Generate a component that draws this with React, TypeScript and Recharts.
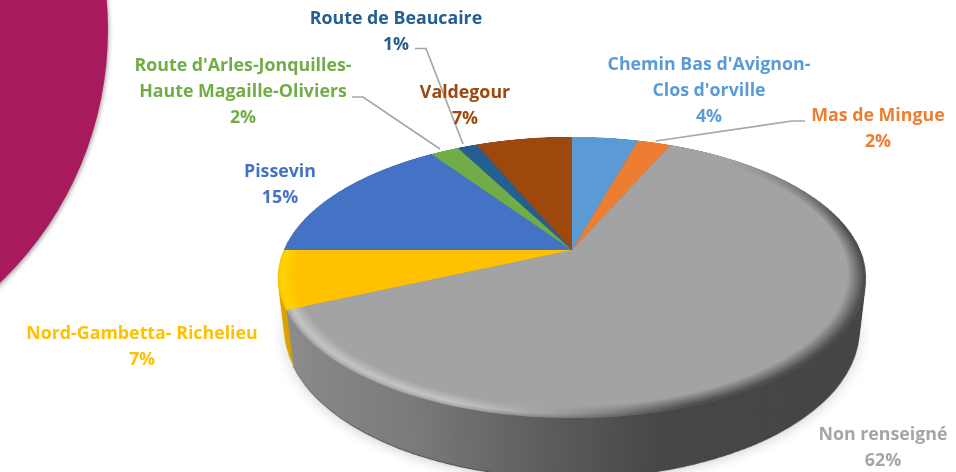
import { PieChart, Pie, Cell } from "recharts";

const categories = [
  "Chemin Bas d'Avignon-\nClos d'orville",
  "Mas de Mingue",
  "Non renseigné",
  "Nord-Gambetta- Richelieu",
  "Pissevin",
  "Route d'Arles-Jonquilles-\nHaute Magaille-Oliviers",
  "Route de Beaucaire",
  "Valdegour",
];
// slice sizes measured on the picture, the printed labels are rounded
const values = [4.4, 2.2, 61.7, 6.7, 15.4, 1.9, 1.3, 6.4];
const percentLabels = ["4%", "2%", "62%", "7%", "15%", "2%", "1%", "7%"];
const colors = ["#5B9BD5", "#ED7D31", "#A3A3A3", "#FFC000", "#4472C4", "#70AD47", "#255E91", "#9E480E"];
const textColors = ["#5B9BD5", "#ED7D31", "#A5A5A5", "#FFC000", "#4472C4", "#70AD47", "#255E91", "#9E480E"];
const sideColors = ["#4A7DAB", "#BE6427", "url(#graySide)", "url(#yellowSide)", "#365B9D", "#5A8A39", "#1E4B74", "#7E3A0B"];

const chartData = categories.map((name, i) => ({ name, value: values[i] }));

const WIDTH = 956;
const HEIGHT = 472;
const SIZE = 700;
const CENTER_X = 572;
const CENTER_Y = 250;
const RADIUS = 288;
const DEPTH = 60;
const LEFT = CENTER_X - SIZE / 2;
const TOP = CENTER_Y - SIZE / 2;

// label centre x and first line y, one per category
const labelX = [709, 878, 883, 142, 280, 243, 396, 465];
const labelY = [63, 114, 433, 332, 170, 64, 17, 91];
const leaders: Record<number, string> = {
  1: "656,141 792,121 805,121",
  5: "352,97 363,97 440,149",
  6: "415,48.5 426,48.5 463,144",
};

const depths: number[] = [];
for (let d = DEPTH; d >= 0; d -= 2) depths.push(d);

const LIGHT_MASK = "linear-gradient(90deg, #000 0, #000 300px, transparent 420px)";
const DARK_MASK = "radial-gradient(circle 340px at 560px 470px, #000 55%, transparent 100%)";

function Disc({
  fills,
  depth = 0,
  inner = 0,
  style,
}: {
  fills: string[];
  depth?: number;
  inner?: number;
  style?: React.CSSProperties;
}) {
  return (
    <div
      style={{
        position: "absolute",
        left: LEFT,
        top: TOP,
        width: SIZE,
        height: SIZE,
        transform: `perspective(1300px) rotateX(62deg) translateZ(${-depth}px)`,
      }}
    >
      <div style={style}>
        <PieChart width={SIZE} height={SIZE} margin={{ top: 0, right: 0, bottom: 0, left: 0 }}>
          <defs>
            <linearGradient id="graySide" gradientUnits="userSpaceOnUse" x1={68} y1={0} x2={644} y2={0}>
              <stop offset="0%" stopColor="#8E8E8E" />
              <stop offset="26%" stopColor="#7A7A7A" />
              <stop offset="47%" stopColor="#5A5A5A" />
              <stop offset="62%" stopColor="#464646" />
              <stop offset="100%" stopColor="#444444" />
            </linearGradient>
            <linearGradient id="yellowSide" gradientUnits="userSpaceOnUse" x1={50} y1={0} x2={80} y2={0}>
              <stop offset="0%" stopColor="#F2BA00" />
              <stop offset="100%" stopColor="#D9A300" />
            </linearGradient>
            <radialGradient id="rimLight" gradientUnits="userSpaceOnUse" cx={SIZE / 2} cy={SIZE / 2} r={RADIUS}>
              <stop offset="94%" stopColor="#FFFFFF" stopOpacity={0} />
              <stop offset="98%" stopColor="#FFFFFF" stopOpacity={0.36} />
              <stop offset="100%" stopColor="#FFFFFF" stopOpacity={0} />
            </radialGradient>
            <radialGradient id="rimDark" gradientUnits="userSpaceOnUse" cx={SIZE / 2} cy={SIZE / 2} r={RADIUS}>
              <stop offset="94%" stopColor="#000000" stopOpacity={0} />
              <stop offset="100%" stopColor="#000000" stopOpacity={0.58} />
            </radialGradient>
            <radialGradient id="rimYellow" gradientUnits="userSpaceOnUse" cx={SIZE / 2} cy={SIZE / 2} r={RADIUS}>
              <stop offset="94%" stopColor="#FFC000" />
              <stop offset="99%" stopColor="#FFD400" />
              <stop offset="100%" stopColor="#FFC000" />
            </radialGradient>
          </defs>
          <Pie
            data={chartData}
            dataKey="value"
            nameKey="name"
            cx={SIZE / 2}
            cy={SIZE / 2}
            innerRadius={inner}
            outerRadius={RADIUS}
            startAngle={90}
            endAngle={-270}
            stroke="none"
            isAnimationActive={false}
          >
            {chartData.map((d, i) => (
              <Cell key={d.name} fill={fills[i]} />
            ))}
          </Pie>
        </PieChart>
      </div>
    </div>
  );
}

function renderLabel(props: any) {
  const i = props.index as number;
  const lines = categories[i].split("\n").concat(percentLabels[i]);
  return (
    <g key={i}>
      {leaders[i] && <polyline points={leaders[i]} fill="none" stroke="#A6A6A6" strokeWidth={1.7} />}
      <text
        x={labelX[i]}
        y={labelY[i]}
        textAnchor="middle"
        fill={textColors[i]}
        fontFamily="'Open Sans', sans-serif"
        fontWeight={700}
        fontSize={17.8}
      >
        {lines.map((line, n) => (
          <tspan key={n} x={labelX[i]} y={labelY[i] + n * 26} dominantBaseline="central">
            {line}
          </tspan>
        ))}
      </text>
    </g>
  );
}

const none = colors.map(() => "none");
const onlyGray = (fill: string) => colors.map((_, i) => (i === 2 ? fill : "none"));
const onlyYellow = (fill: string) => colors.map((_, i) => (i === 3 ? fill : "none"));

export default function App() {
  return (
    <div
      style={{
        position: "absolute",
        left: 0,
        top: 0,
        width: WIDTH,
        height: HEIGHT,
        overflow: "hidden",
        background: "#FFFFFF",
      }}
    >
      <div
        style={{
          position: "absolute",
          left: -592,
          top: -320,
          width: 700,
          height: 700,
          borderRadius: "50%",
          background: "#A71B5E",
          boxShadow: "1px 2px 4px rgba(0,0,0,0.35)",
        }}
        aria-hidden
      />
      <Disc
        fills={colors.map(() => "#000000")}
        depth={DEPTH + 4}
        style={{ filter: "blur(7px)", opacity: 0.16 }}
      />
      <Disc fills={onlyGray("#484848")} depth={DEPTH + 1} />
      {depths.map((d) => (
        <Disc key={d} fills={sideColors} depth={d} />
      ))}
      <Disc fills={colors} />
      <Disc
        fills={onlyGray("url(#rimLight)")}
        inner={268}
        style={{ maskImage: LIGHT_MASK, WebkitMaskImage: LIGHT_MASK }}
      />
      <Disc
        fills={onlyGray("url(#rimDark)")}
        inner={268}
        style={{ maskImage: DARK_MASK, WebkitMaskImage: DARK_MASK }}
      />
      <Disc fills={onlyYellow("url(#rimYellow)")} inner={268} />
      <div style={{ position: "absolute", left: 0, top: 0 }}>
        <PieChart width={WIDTH} height={HEIGHT} margin={{ top: 0, right: 0, bottom: 0, left: 0 }}>
          <Pie
            data={chartData}
            dataKey="value"
            nameKey="name"
            cx={CENTER_X}
            cy={CENTER_Y}
            outerRadius={RADIUS}
            startAngle={90}
            endAngle={-270}
            stroke="none"
            fill="none"
            label={renderLabel}
            labelLine={false}
            isAnimationActive={false}
          >
            {chartData.map((d, i) => (
              <Cell key={d.name} fill={none[i]} />
            ))}
          </Pie>
        </PieChart>
      </div>
    </div>
  );
}
